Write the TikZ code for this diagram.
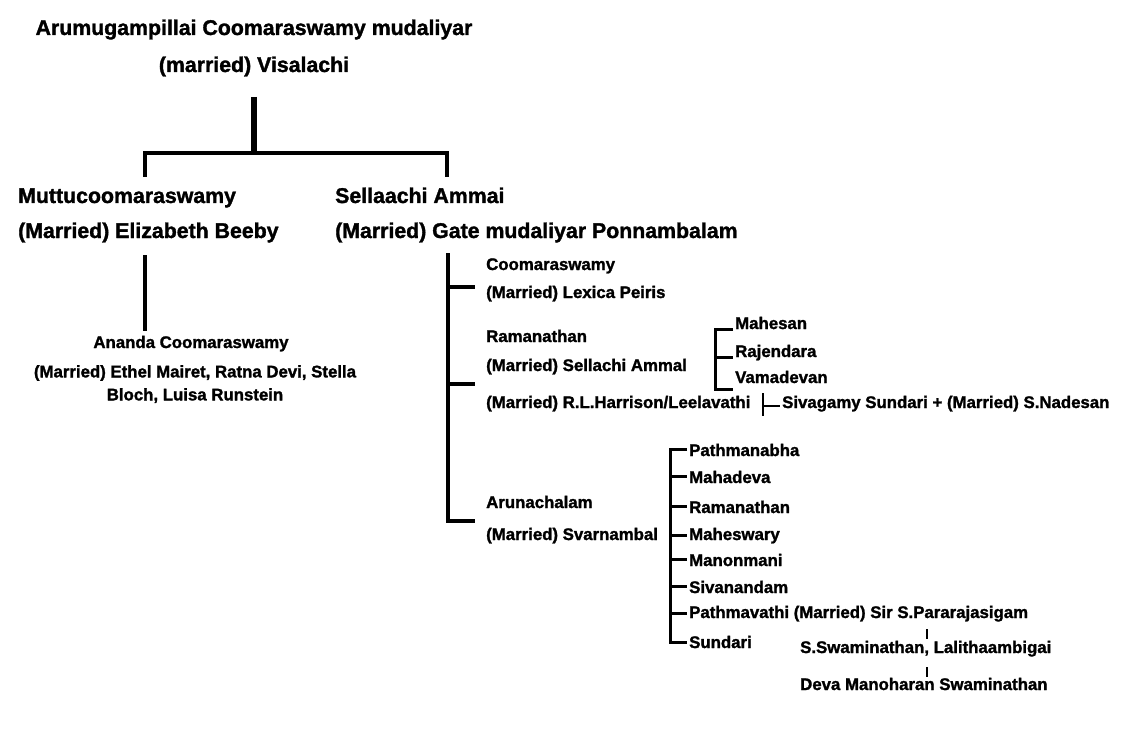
\documentclass[tikz,border=0pt]{standalone}
\usepackage{fontspec}
\setmainfont{Liberation Sans}[BoldFeatures={FakeBold=1.5}]

\begin{document}
\begin{tikzpicture}[x=1pt, y=-1pt,
      bigname/.style ={inner sep = 0pt, font=\bfseries\fontsize{21.3}{25}\selectfont},
      smallname/.style ={inner sep = 0pt, font=\bfseries\fontsize{16.8}{23}\selectfont},
      childname/.style ={inner xsep = 2pt, inner ysep = 0pt, font=\bfseries\fontsize{16.8}{23}\selectfont},
      link/.style ={line width = 3.2pt},
      bracket/.style ={line width = 3pt},
      thinlink/.style ={line width = 2.4pt}]
   \useasboundingbox (0,0) rectangle (1127,730);

   \node[bigname, anchor=base] (root)  at (254,35)  {Arumugampillai Coomaraswamy mudaliyar};
   \node[bigname, anchor=base] (rootwife)  at (254,72)  {(married) Visalachi};

   \node[bigname, anchor=base west] (muttu)  at (18,203)  {Muttucoomaraswamy};
   \node[bigname, anchor=base west] (muttuwife)  at (18,238)  {(Married) Elizabeth Beeby};
   \node[bigname, anchor=base west] (sella)  at (335,203)  {Sellaachi Ammai};
   \node[bigname, anchor=base west] (sellawife)  at (335,238)  {(Married) Gate mudaliyar Ponnambalam};

   \node[smallname, anchor=base] (ananda)  at (191,348)  {Ananda Coomaraswamy};
   \node[smallname, anchor=north, align=center] (anandawife)  at (195,365)
      {(Married) Ethel Mairet, Ratna Devi, Stella\\Bloch, Luisa Runstein};

   \node[smallname, anchor=base west] (coom)  at (486,270)  {Coomaraswamy};
   \node[smallname, anchor=base west] (coomwife)  at (486,298)  {(Married) Lexica Peiris};
   \node[smallname, anchor=base west] (rama)  at (486,342)  {Ramanathan};
   \node[smallname, anchor=base west] (ramawife)  at (486,371)  {(Married) Sellachi Ammal};
   \node[smallname, anchor=base west] (ramawife2)  at (486,408)  {(Married) R.L.Harrison/Leelavathi};
   \node[smallname, anchor=base west] (aruna)  at (486,508)  {Arunachalam};
   \node[smallname, anchor=base west] (arunawife)  at (486,540)  {(Married) Svarnambal};

   \node[childname, anchor=base west] (mahesan)  at (733,329)  {Mahesan};
   \node[childname, anchor=base west] (rajendara)  at (733,357)  {Rajendara};
   \node[childname, anchor=base west] (vamadevan)  at (733,383)  {Vamadevan};
   \node[childname, anchor=base west] (sivagamy)  at (780,408)  {Sivagamy Sundari + (Married) S.Nadesan};

   \node[childname, anchor=base west] (pathmanabha)  at (687,456)  {Pathmanabha};
   \node[childname, anchor=base west] (mahadeva)  at (687,483)  {Mahadeva};
   \node[childname, anchor=base west] (ramanathan)  at (687,513)  {Ramanathan};
   \node[childname, anchor=base west] (maheswary)  at (687,540)  {Maheswary};
   \node[childname, anchor=base west] (manonmani)  at (687,566)  {Manonmani};
   \node[childname, anchor=base west] (sivanandam)  at (687,593)  {Sivanandam};
   \node[childname, anchor=base west] (pathmavathi)  at (687,618)  {Pathmavathi (Married) Sir S.Pararajasigam};
   \node[childname, anchor=base west] (sundari)  at (687,648)  {Sundari};

   \node[smallname, anchor=base west] (swami)  at (800,653)  {S.Swaminathan, Lalithaambigai};
   \node[smallname, anchor=base west] (deva)  at (800,690)  {Deva Manoharan Swaminathan};

   \coordinate (rootdrop) at (254,97);
   \coordinate (rootfork) at (254,153);
   \coordinate (leftdrop) at (145,177);
   \coordinate (rightdrop) at (447,177);
   \coordinate (muttudrop) at (145,255);
   \coordinate (anandaup) at (145,331);
   \coordinate (sellatop) at (448,253);
   \coordinate (coomtick) at (475,287);
   \coordinate (ramatick) at (475,384);
   \coordinate (arunatick) at (475,521);
   \coordinate (ramspine) at (715,329);
   \coordinate (sivatop) at (763,393);
   \coordinate (sivabot) at (763,416);
   \coordinate (sivabar) at (763,406);
   \coordinate (arunaspine) at (670,451);
   \coordinate (swamiup) at (927,629);
   \coordinate (swamidown) at (927,639);
   \coordinate (devaup) at (927,667);
   \coordinate (devadown) at (927,677);

   \draw[line width=6pt] (rootdrop) to  (rootfork);
   \draw[link] (leftdrop) |- (rootfork) -| (rightdrop);
   \draw[link] (muttudrop) to  (anandaup);

   \draw[link] (sellatop) |- (arunatick);
   \draw[link] (sellatop |- coomtick) to  (coomtick);
   \draw[link] (sellatop |- ramatick) to  (ramatick);

   \draw[bracket] (mahesan.base west) -| (ramspine) |- ([yshift=-6pt]vamadevan.base west);
   \draw[bracket] (ramspine |- rajendara.base west) to  (rajendara.base west);
   \draw[thinlink] (sivatop) to  (sivabot);
   \draw[thinlink] (sivabar) to  (sivabar -| sivagamy.west);

   \draw[bracket] (pathmanabha.west) -| (arunaspine) |- (sundari.west);
   \draw[bracket] (arunaspine |- mahadeva.west) to  (mahadeva.west);
   \draw[bracket] (arunaspine |- ramanathan.west) to  (ramanathan.west);
   \draw[bracket] (arunaspine |- maheswary.west) to  (maheswary.west);
   \draw[bracket] (arunaspine |- manonmani.west) to  (manonmani.west);
   \draw[bracket] (arunaspine |- sivanandam.west) to  (sivanandam.west);
   \draw[bracket] (arunaspine |- pathmavathi.west) to  (pathmavathi.west);

   \draw[thinlink] (swamiup) to  (swamidown);
   \draw[thinlink] (devaup) to  (devadown);
 \end{tikzpicture}
\end{document}
